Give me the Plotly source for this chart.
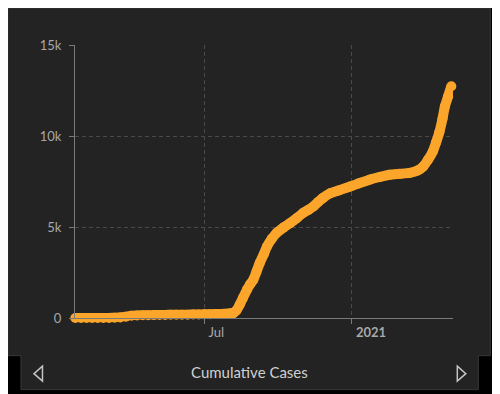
import plotly.graph_objects as go

# ---- data ----
dates = [
    "2020-01-22", "2020-01-29", "2020-02-05", "2020-02-12", "2020-02-19",
    "2020-02-26", "2020-03-04", "2020-03-11", "2020-03-18", "2020-03-25",
    "2020-04-01", "2020-04-08", "2020-04-15", "2020-04-22", "2020-04-29",
    "2020-05-06", "2020-05-13", "2020-05-20", "2020-05-27", "2020-06-03",
    "2020-06-10", "2020-06-17", "2020-06-24", "2020-07-01", "2020-07-08",
    "2020-07-15", "2020-07-22", "2020-07-29", "2020-08-03", "2020-08-06",
    "2020-08-10", "2020-08-14", "2020-08-18", "2020-08-23", "2020-08-27",
    "2020-08-31", "2020-09-04", "2020-09-08", "2020-09-13", "2020-09-17",
    "2020-09-23", "2020-09-29", "2020-10-08", "2020-10-16", "2020-10-24",
    "2020-11-01", "2020-11-08", "2020-11-14", "2020-11-20", "2020-11-26",
    "2020-12-05", "2020-12-15", "2020-12-30", "2021-01-10", "2021-01-23",
    "2021-02-05", "2021-02-17", "2021-03-01", "2021-03-14", "2021-03-24",
    "2021-03-31", "2021-04-06", "2021-04-12", "2021-04-16", "2021-04-20",
    "2021-04-24", "2021-04-27", "2021-05-01", "2021-05-05",
]
cases = [
    0, 0, 0, 0, 0,
    0, 5, 15, 30, 70,
    120, 140, 150, 155, 160,
    165, 170, 175, 178, 180,
    185, 190, 195, 200, 205,
    215, 225, 240, 255, 270,
    420, 730, 1100, 1550, 1850,
    2100, 2550, 3020, 3500, 3930,
    4350, 4670, 4980, 5220, 5480,
    5770, 5950, 6130, 6380, 6600,
    6850, 7000, 7230, 7400, 7600,
    7750, 7870, 7920, 7970, 8100,
    8330, 8700, 9160, 9650, 10200,
    10950, 11630, 12180, 12730,
]
series_name = "Cumulative Cases"

y_tickvals = [0, 5000, 10000, 15000]
y_ticktext = ["0", "5k", "10k", "15k"]
x_tickvals = ["2020-07-01", "2021-01-01"]
x_ticktext = ["Jul", "<b>2021</b>"]

# ---- geometry (reference pixel coords -> paper) ----
W, H = 500, 394
OFF = 8  # page offset of the figure inside the window
PL, PR, PT, PB = 75.0, 452.7, 45.0, 318.3  # plot area in reference pixels
ML, MT = PL - OFF, PT - OFF
MR, MB = W - (PR - OFF), H - (PB - OFF)


def px(x):
    return (x - PL) / (PR - PL)


def py(y):
    return (PB - y) / (PB - PT)


def path(points, close=True):
    s = "M " + " L ".join(f"{px(a):.5f},{py(b):.5f}" for a, b in points)
    return s + (" Z" if close else "")


ORANGE = "#FBA62B"
PANEL = "#232323"
BORDER = "#383838"
AXIS = "#7a7a7a"
GRID = "#4a4a4a"
FONT = "Lato, 'Open Sans', sans-serif"
TICKFONT = dict(family=FONT, size=13, color="#a8a8a8")

fig = go.Figure()
fig.add_trace(go.Scatter(
    x=dates, y=cases, name=series_name,
    mode="lines+markers",
    line=dict(color=ORANGE, width=10, shape="spline", smoothing=0.5),
    marker=dict(color=ORANGE, size=10),
    cliponaxis=False,
    hoverinfo="skip",
))

panel_outline = [(8, 8), (490, 8), (490, 356), (478, 356), (478, 390),
                 (21, 390), (21, 356), (8, 356)]
shapes = [
    dict(type="path", xref="paper", yref="paper", path=path(panel_outline),
         fillcolor=PANEL, line=dict(color=BORDER, width=1), layer="below"),
    dict(type="path", xref="paper", yref="paper",
         path=path([(42.5, 366.5), (34, 374), (42.5, 381.5)]),
         fillcolor="rgba(0,0,0,0)", line=dict(color="#c4c4c4", width=1.5)),
    dict(type="path", xref="paper", yref="paper",
         path=path([(457, 366.5), (465.5, 374), (457, 381.5)]),
         fillcolor="rgba(0,0,0,0)", line=dict(color="#c4c4c4", width=1.5)),
]

fig.update_layout(
    width=W, height=H,
    margin=dict(l=ML, r=MR, t=MT, b=MB, pad=0),
    paper_bgcolor="#000000",
    plot_bgcolor="rgba(0,0,0,0)",
    showlegend=False,
    shapes=shapes,
    annotations=[dict(
        text=series_name, xref="paper", yref="paper",
        x=px(249.5), y=py(372), showarrow=False,
        xanchor="center", yanchor="middle",
        font=dict(family=FONT, size=15, color="#d0d0d0"),
    )],
    xaxis=dict(
        type="date",
        range=["2020-01-21 14:00", "2021-05-07 02:00"],
        tickvals=x_tickvals, ticktext=x_ticktext,
        ticklabelposition="outside right", ticklabelshift=3,
        ticklabelstandoff=2,
        showline=True, linecolor=AXIS, linewidth=1,
        ticks="outside", ticklen=5, tickcolor=AXIS, tickwidth=1,
        showgrid=True, gridcolor=GRID, griddash="4px,3px", gridwidth=1,
        zeroline=False, tickfont=TICKFONT,
    ),
    yaxis=dict(
        range=[0, 15000],
        tickvals=y_tickvals, ticktext=y_ticktext,
        ticklabelstandoff=5,
        showline=True, linecolor=AXIS, linewidth=1,
        ticks="outside", ticklen=5, tickcolor=AXIS, tickwidth=1,
        showgrid=True, gridcolor=GRID, griddash="4px,3px", gridwidth=1,
        zeroline=False, tickfont=TICKFONT,
    ),
)

fig.write_html("out.html")
